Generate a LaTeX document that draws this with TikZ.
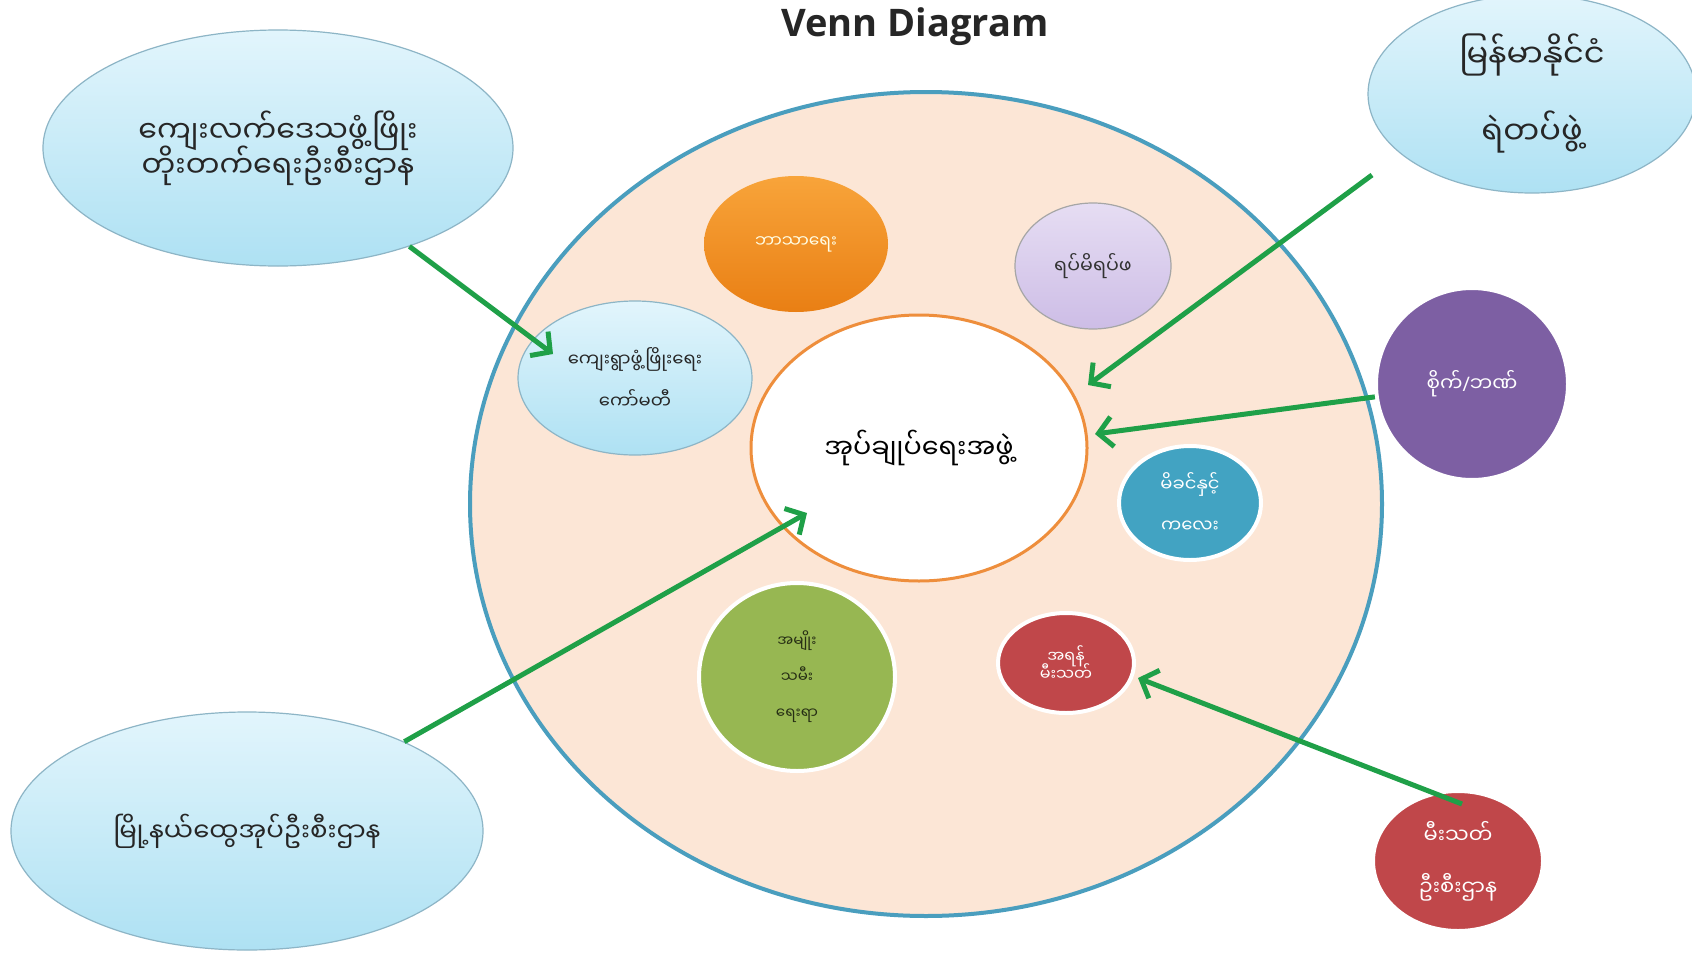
\documentclass[tikz,border=0pt]{standalone}
\usepackage{fontspec}
\setmainfont{Open Sans}
\newfontfamily\mya[Script=Myanmar]{Noto Sans Myanmar UI}
\newfontfamily\latinf{Open Sans}
\newcommand\mysz[2]{\mya\fontsize{#1}{#2}\selectfont\lineskiplimit -100pt\relax\lineskip 0pt\relax}
\usetikzlibrary{shapes.geometric,arrows.meta}
\definecolor{peach}{HTML}{FCE6D6}
\definecolor{ringblue}{HTML}{4A9EBE}
\definecolor{ringorange}{HTML}{EE8E3C}
\definecolor{skytop}{HTML}{E2F5FC}
\definecolor{skybot}{HTML}{AEE1F3}
\definecolor{skyedge}{HTML}{8DB5C6}
\definecolor{orangeA}{HTML}{F8A43A}
\definecolor{orangeB}{HTML}{E97F14}
\definecolor{lavA}{HTML}{E6DDF3}
\definecolor{lavB}{HTML}{CDBDE6}
\definecolor{purp}{HTML}{7D5FA3}
\definecolor{teal}{HTML}{42A3C2}
\definecolor{olive}{HTML}{97B752}
\definecolor{brick}{HTML}{C0474A}
\definecolor{arrowgreen}{HTML}{1FA048}
\begin{document}
\begin{tikzpicture}[x=1pt,y=-1pt,
  ell/.style={ellipse, inner sep=0pt, align=center},
  sky/.style={ell, top color=skytop, bottom color=skybot, draw=skyedge, line width=1.2pt},
  bub/.style={ell, draw=white, line width=4pt},
  arr/.style={draw=arrowgreen, line width=5pt, -{Straight Barb[length=14pt,width=30pt]}},
  my/.style 2 args={font={\mysz{#1}{#2}}}
]
\useasboundingbox (0,0) rectangle (1692,953);
\fill[white] (0,0) rectangle (1692,953);

% title
\node[font=\bfseries\fontsize{38}{44}\selectfont, text=black!85] (title) at (915,27) {Venn Diagram};

% big circle
\node[ell, draw=ringblue, line width=4pt, fill=peach, minimum width=912pt, minimum height=824pt] (big) at (926,504) {};

% center
\node[ell, draw=ringorange, line width=3pt, fill=white, minimum width=336pt, minimum height=266pt, my={27}{32}] (core) at (919,448) {အုပ်ချုပ်ရေးအဖွဲ့};

% inner bubbles
\node[ell, top color=orangeA, bottom color=orangeB, minimum width=184pt, minimum height=136pt, text=white!90!yellow, my={17}{22}] (rel) at (796,244) {ဘာသာရေး};
\node[ell, top color=lavA, bottom color=lavB, draw=gray!70, line width=1.2pt, minimum width=156pt, minimum height=126pt, text=black!80, my={19}{24}] (elder) at (1093,266) {ရပ်မိရပ်ဖ};
\node[sky, minimum width=234pt, minimum height=154pt, text=black!85, my={18}{42}] (kv) at (635,378) {ကျေးရွာဖွံ့ဖြိုးရေး\\ကော်မတီ};
\node[bub, fill=teal, minimum width=142pt, minimum height=114pt, text=white, my={18}{41}] (mc) at (1190,503) {မိခင်နှင့်\\ကလေး};
\node[bub, fill=olive, minimum width=196pt, minimum height=188pt, text=black!75!olive, my={15}{36}] (wom) at (797,677) {အမျိုး\\သမီး\\ရေးရာ};
\node[bub, fill=brick, minimum width=136pt, minimum height=100pt, text=white, my={16}{18}] (aux) at (1066,663) {အရန်\\မီးသတ်};

% outer bubbles
\node[bub, fill=purp, minimum width=192pt, minimum height=192pt, text=white, my={20}{26}] (bank) at (1472,384) {စိုက်{\latinf/}ဘဏ်};
\node[bub, fill=brick, minimum width=170pt, minimum height=140pt, text=white, my={21}{52}] (fire) at (1458,861) {မီးသတ်\\ဦးစီးဌာန};
\node[sky, minimum width=470pt, minimum height=236pt, text=black!85, my={30}{35}] (rural) at (278,148) {ကျေးလက်ဒေသဖွံ့ဖြိုး\\တိုးတက်ရေးဦးစီးဌာန};
\node[sky, minimum width=328pt, minimum height=198pt, text=black!85, my={32}{77}] (police) at (1532,94) {မြန်မာနိုင်ငံ\\ရဲတပ်ဖွဲ့};
\node[sky, minimum width=472pt, minimum height=238pt, text=black!85, my={26}{32}] (gad) at (247,831) {မြို့နယ်ထွေအုပ်ဦးစီးဌာန};

% arrow end points
\coordinate (e1) at (553,354);
\coordinate (s2) at (1372,175);
\coordinate (e2) at (1088,385);
\coordinate (e3) at (1095,434);
\coordinate (e4) at (807,513);
\coordinate (s5) at (1462,804);
\coordinate (e5) at (1138,678);

\draw[arr] (rural) -- (e1);
\draw[arr] (s2) -- (e2);
\draw[arr] (bank) -- (e3);
\draw[arr] (gad) -- (e4);
\draw[arr] (s5) -- (e5);
\end{tikzpicture}
\end{document}
